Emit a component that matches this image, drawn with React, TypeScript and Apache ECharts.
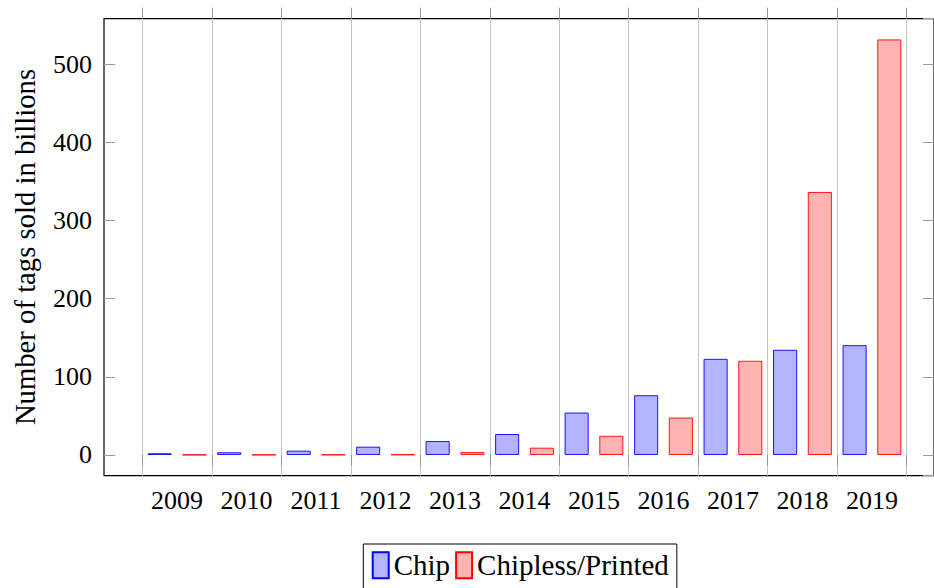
import React, { useEffect, useRef } from "react";
import * as echarts from "echarts";

const years = ["2009", "2010", "2011", "2012", "2013", "2014", "2015", "2016", "2017", "2018", "2019"];
const chipValues = [2.1, 3.4, 5.4, 10.5, 17.7, 26.7, 54.2, 76.4, 123, 134.6, 140.5];
const chiplessValues = [0.1, 0.2, 0.3, 0.5, 3.6, 9.2, 24.4, 47.8, 120.5, 336.7, 532];
const seriesNames = ["Chip", "Chipless/Printed"];
const yLabel = "Number of tags sold in billions";
const yMin = -26.6;
const yMax = 558.6;

const FONT = "Liberation Serif";
const GRID_COLOR = "#c4c4c4";
const TICK_COLOR = "#9a9a9a";

export default function App() {
  const ref = useRef<HTMLDivElement>(null);
  useEffect(() => {
    if (!ref.current) return;
    const chart = echarts.init(ref.current, null, { renderer: "svg" });
    const option: any = {
      animation: false,
      backgroundColor: "#fff",
      textStyle: { fontFamily: FONT },
      grid: [
        {
          left: 104,
          right: -10.5,
          top: 18.7,
          bottom: 112.3,
          show: true,
          borderColor: "#000",
          borderWidth: 1.2,
          backgroundColor: "transparent",
        },
        { left: 142.3, right: 27.3, top: 18.7, bottom: 112.3 },
      ],
      xAxis: [
        { type: "value", gridIndex: 0, show: false, min: 0, max: 1 },
        {
          type: "category",
          gridIndex: 1,
          position: "bottom",
          data: years,
          boundaryGap: true,
          axisLine: { show: false },
          axisTick: { show: true, inside: false, length: 11, lineStyle: { color: TICK_COLOR, width: 1 } },
          axisLabel: { color: "#000", fontFamily: FONT, fontSize: 26, margin: 12 },
          splitLine: { show: true, lineStyle: { color: GRID_COLOR, width: 1 } },
        },
        {
          type: "category",
          gridIndex: 1,
          position: "top",
          data: years,
          boundaryGap: true,
          axisLine: { show: false },
          axisTick: { show: true, inside: false, length: 11, lineStyle: { color: TICK_COLOR, width: 1 } },
          axisLabel: { show: false },
          splitLine: { show: false },
        },
      ],
      yAxis: [
        {
          type: "value",
          gridIndex: 0,
          position: "left",
          min: yMin,
          max: yMax,
          splitNumber: 5,
          axisLine: { show: false },
          axisTick: { show: true, inside: true, length: 11, lineStyle: { color: TICK_COLOR, width: 1 } },
          axisLabel: {
            color: "#000",
            fontFamily: FONT,
            fontSize: 26,
            margin: 12,
            showMinLabel: false,
            showMaxLabel: false,
            formatter: (v: number) => (Math.abs(v % 100) < 1e-6 ? String(v) : ""),
          },
          splitLine: { show: false },
        },
        {
          type: "value",
          gridIndex: 0,
          position: "right",
          min: yMin,
          max: yMax,
          splitNumber: 5,
          axisLine: { show: false },
          axisTick: { show: true, inside: true, length: 11, lineStyle: { color: TICK_COLOR, width: 1 } },
          axisLabel: { show: false },
          splitLine: { show: false },
        },
        { type: "value", gridIndex: 1, min: yMin, max: yMax, show: false, splitLine: { show: false } },
      ],
      legend: {
        left: 363.3,
        top: 544,
        orient: "horizontal",
        padding: [6.7, 8, 12, 8.4],
        itemWidth: 16,
        itemHeight: 26,
        itemGap: 5,
        borderColor: "#000",
        borderWidth: 1,
        icon: "rect",
        textStyle: { color: "#000", fontFamily: FONT, fontSize: 29, padding: [6, 0, 0, 0] },
        data: seriesNames,
      },
      graphic: [
        {
          type: "text",
          x: 24.5,
          y: 247,
          rotation: Math.PI / 2,
          style: {
            text: yLabel,
            fontFamily: FONT,
            fontSize: 28.7,
            fill: "#000",
            align: "center",
            verticalAlign: "middle",
          },
        },
      ],
      series: [
        {
          name: seriesNames[0],
          type: "bar",
          xAxisIndex: 1,
          yAxisIndex: 2,
          data: chipValues,
          barWidth: 24,
          barGap: "44.6%",
          itemStyle: { color: "#b3b3ff", borderColor: "#0000ff", borderWidth: 0.9 },
        },
        {
          name: seriesNames[1],
          type: "bar",
          xAxisIndex: 1,
          yAxisIndex: 2,
          data: chiplessValues,
          barWidth: 24,
          barGap: "44.6%",
          itemStyle: { color: "#ffb3b3", borderColor: "#ff0000", borderWidth: 0.9 },
        },
      ],
    };
    chart.setOption(option);
    return () => chart.dispose();
  }, []);
  return (
    <div
      ref={ref}
      style={{ position: "absolute", left: 0, top: 0, width: 934, height: 588, overflow: "hidden" }}
    />
  );
}
